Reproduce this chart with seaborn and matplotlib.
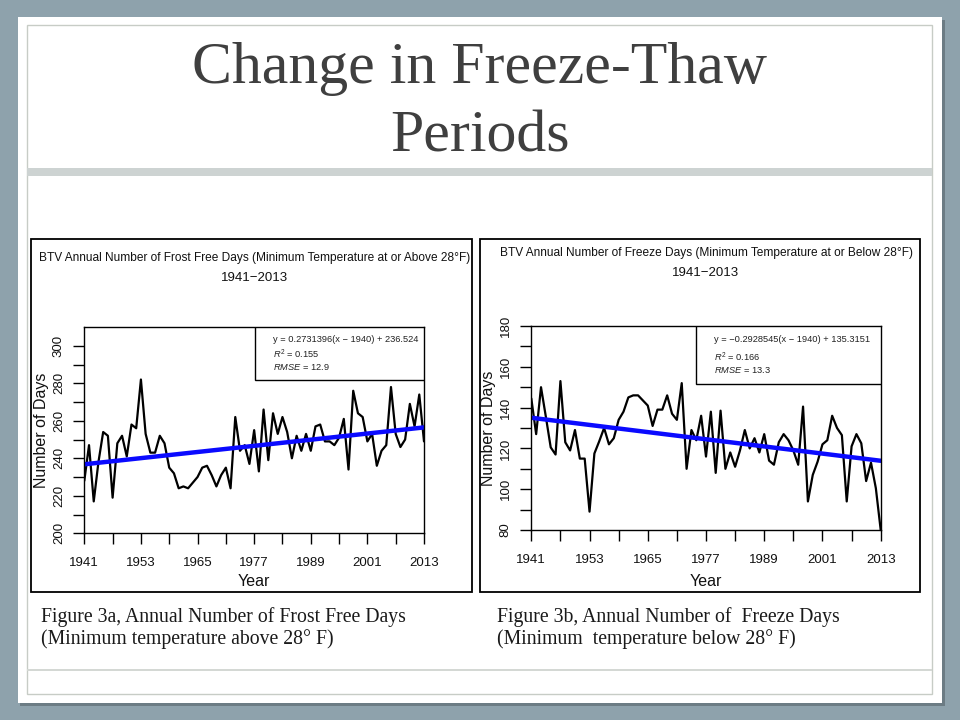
import matplotlib
matplotlib.use("Agg")
import pandas as pd
import matplotlib.pyplot as plt
import seaborn as sns
from matplotlib.patches import Rectangle

# Data (BTV, 1941-2013)
years = list(range(1941, 2014))
frost_free_days = [
    228, 247, 217, 238, 254, 252, 219, 248, 252, 241,
    258, 256, 282, 253, 243, 243, 252, 248, 235, 232,
    224, 225, 224, 227, 230, 235, 236, 231, 225, 231,
    235, 224, 262, 244, 247, 237, 255, 233, 266, 239,
    264, 253, 262, 254, 240, 252, 244, 253, 244, 257,
    258, 249, 249, 247, 251, 261, 234, 276, 264, 262,
    249, 253, 236, 244, 247, 278, 253, 246, 250, 269,
    257, 274, 249,
]
freeze_days = [
    144.5, 127, 150, 135.5, 120.5, 117, 153, 123, 119, 129,
    115, 115, 89, 117.5, 123.5, 130, 122, 125, 134, 138,
    145, 146, 146, 143.5, 141, 131, 139, 139, 146, 137,
    134, 152, 110, 129, 124, 136, 116, 138, 108, 138.5,
    110, 118, 111, 119, 129, 120, 125, 118, 127, 114,
    112, 123, 127, 124, 119, 112, 140.5, 94, 107, 113.5,
    122, 124, 136, 130, 126.5, 94, 121, 127, 122.5, 104,
    113, 100.5, 80,
]

# fitted trends as printed in the chart boxes
frost_fit = [0.2731396 * (y - 1940) + 236.524 for y in years]
freeze_fit = [-0.2928545 * (y - 1940) + 135.3151 for y in years]

frost_title = "BTV Annual Number of Frost Free Days (Minimum Temperature at or Above 28\u00b0F)"
freeze_title = "BTV Annual Number of Freeze Days (Minimum Temperature at or Below 28\u00b0F)"
frost_eq = ["y = 0.2731396(x \u2212 1940) + 236.524", r"$R^2$ = 0.155", r"$RMSE$ = 12.9"]
freeze_eq = ["y = \u22120.2928545(x \u2212 1940) + 135.3151", r"$R^2$ = 0.166", r"$RMSE$ = 13.3"]

df = pd.DataFrame({"Year": years, "Frost": frost_free_days, "Freeze": freeze_days,
                   "FrostFit": frost_fit, "FreezeFit": freeze_fit})

sns.set_theme(style="white")
plt.rcParams['font.family'] = ['Liberation Sans', 'DejaVu Sans']
plt.rcParams['mathtext.fontset'] = 'custom'
plt.rcParams['mathtext.rm'] = 'Liberation Sans'
plt.rcParams['mathtext.it'] = 'Liberation Sans:italic'

W, H = 960, 720
fig = plt.figure(figsize=(9.6, 7.2), dpi=100)
fig.patch.set_facecolor('#8ea2ac')


def fx(px):
    return px / W


def fy(py):
    return 1 - py / H


def box(x0, y0, x1, y1, **kw):
    # pixel box, origin top-left
    r = Rectangle((fx(x0), fy(y1)), (x1 - x0) / W, (y1 - y0) / H,
                  transform=fig.transFigure, zorder=-5, **kw)
    fig.add_artist(r)


# slide frame
box(20, 20, 945, 706, facecolor='#6c7c84', edgecolor='none')
box(18, 17, 942, 703, facecolor='white', edgecolor='none')
box(27, 25, 932, 694, facecolor='none', edgecolor='#c7ccc6', lw=1)
box(27, 168, 932, 176, facecolor='#cdd3d2', edgecolor='none')
box(27, 669, 932, 670.5, facecolor='#d4d8d4', edgecolor='none')

# chart panels
box(31, 239, 472, 592, facecolor='white', edgecolor='black', lw=1.3)
box(480, 239, 920, 592, facecolor='white', edgecolor='black', lw=1.3)

fig.text(0.5, fy(83), "Change in Freeze-Thaw", family='Liberation Serif',
         fontsize=43, color='#3f3f3f', ha='center', va='baseline')
fig.text(0.5, fy(152), "Periods", family='Liberation Serif',
         fontsize=43, color='#3f3f3f', ha='center', va='baseline')


def draw_panel(rect, col, fit, ylim, title, ttl_y, eq, eq_box, eq_x, eq_y):
    x0, top, x1, bottom = rect
    ax = fig.add_axes([fx(x0), fy(bottom), (x1 - x0) / W, (bottom - top) / H])
    ax.set_facecolor('white')
    sns.lineplot(data=df, x="Year", y=col, color='black', lw=1.6, ax=ax)
    sns.lineplot(data=df, x="Year", y=fit, color='#0a0aff', lw=3.2, ax=ax)
    ax.set_xlim(1941, 2013)
    ax.set_ylim(*ylim)
    xt = list(range(1941, 2014, 6))
    ax.set_xticks(xt)
    ax.set_xticklabels([str(t) if (t - 1941) % 12 == 0 else "" for t in xt])
    yt = list(range(ylim[0], ylim[0] + 101, 10))
    ax.set_yticks(yt)
    ax.set_yticklabels([str(t) if (t - ylim[0]) % 20 == 0 else "" for t in yt])
    ax.tick_params(axis='both', direction='out', length=8, width=1, color='black',
                   labelsize=9.5, labelcolor='#111111', bottom=True, left=True)
    ax.tick_params(axis='x', pad=9)
    ax.tick_params(axis='y', pad=6, labelrotation=90)
    for lab in ax.get_yticklabels():
        lab.set_va('center')
    for s in ax.spines.values():
        s.set_visible(True)
        s.set_color('black')
        s.set_linewidth(1)
    ax.set_xlabel("Year", fontsize=11.5, color='#111111')
    ax.set_ylabel("Number of Days", fontsize=11.5, color='#111111')
    ax.xaxis.set_label_coords(0.5, -(582 - bottom) / (bottom - top))
    ax.xaxis.label.set_va('center')
    # label sits about 43 px left of the plot edge
    ax.yaxis.set_label_coords(-43 / (x1 - x0), 0.5)
    ax.yaxis.label.set_va('center')

    # regression summary box
    bx0 = (eq_box[0] - x0) / (x1 - x0)
    by0 = (bottom - eq_box[1]) / (bottom - top)
    ax.add_patch(Rectangle((bx0, by0), 1 - bx0, 1 - by0, transform=ax.transAxes,
                           facecolor='white', edgecolor='black', lw=1, zorder=5))
    for line, yy in zip(eq, eq_y):
        fig.text(fx(eq_x), fy(yy), line, fontsize=6.7, color='#222222',
                 ha='left', va='center')

    cx = (x0 + x1) / 2
    fig.text(fx(cx), fy(ttl_y[0]), title, fontsize=8.55, color='#111111',
             ha='center', va='center')
    fig.text(fx(cx), fy(ttl_y[1]), "1941\u22122013", fontsize=9.5, color='#111111',
             ha='center', va='center')
    return ax


draw_panel((84.3, 327, 424, 533.3), "Frost", "FrostFit", (200, 310), frost_title,
           (258, 278), frost_eq, (255, 380), 273, (340, 354, 367))
draw_panel((531.3, 326, 880.7, 530), "Freeze", "FreezeFit", (80, 180), freeze_title,
           (253, 273), freeze_eq, (695.7, 384), 714.5, (340, 357, 370))

cap = dict(family='Liberation Serif', fontsize=14.2, color='#1a1a1a', ha='left', va='center')
fig.text(fx(41), fy(617), "Figure 3a, Annual Number of Frost Free Days", **cap)
fig.text(fx(41), fy(639), "(Minimum temperature above 28\u00b0 F)", **cap)
fig.text(fx(497), fy(617), "Figure 3b, Annual Number of  Freeze Days", **cap)
fig.text(fx(497), fy(639), "(Minimum  temperature below 28\u00b0 F)", **cap)

fig.savefig("out.png", dpi=100, facecolor=fig.get_facecolor())
